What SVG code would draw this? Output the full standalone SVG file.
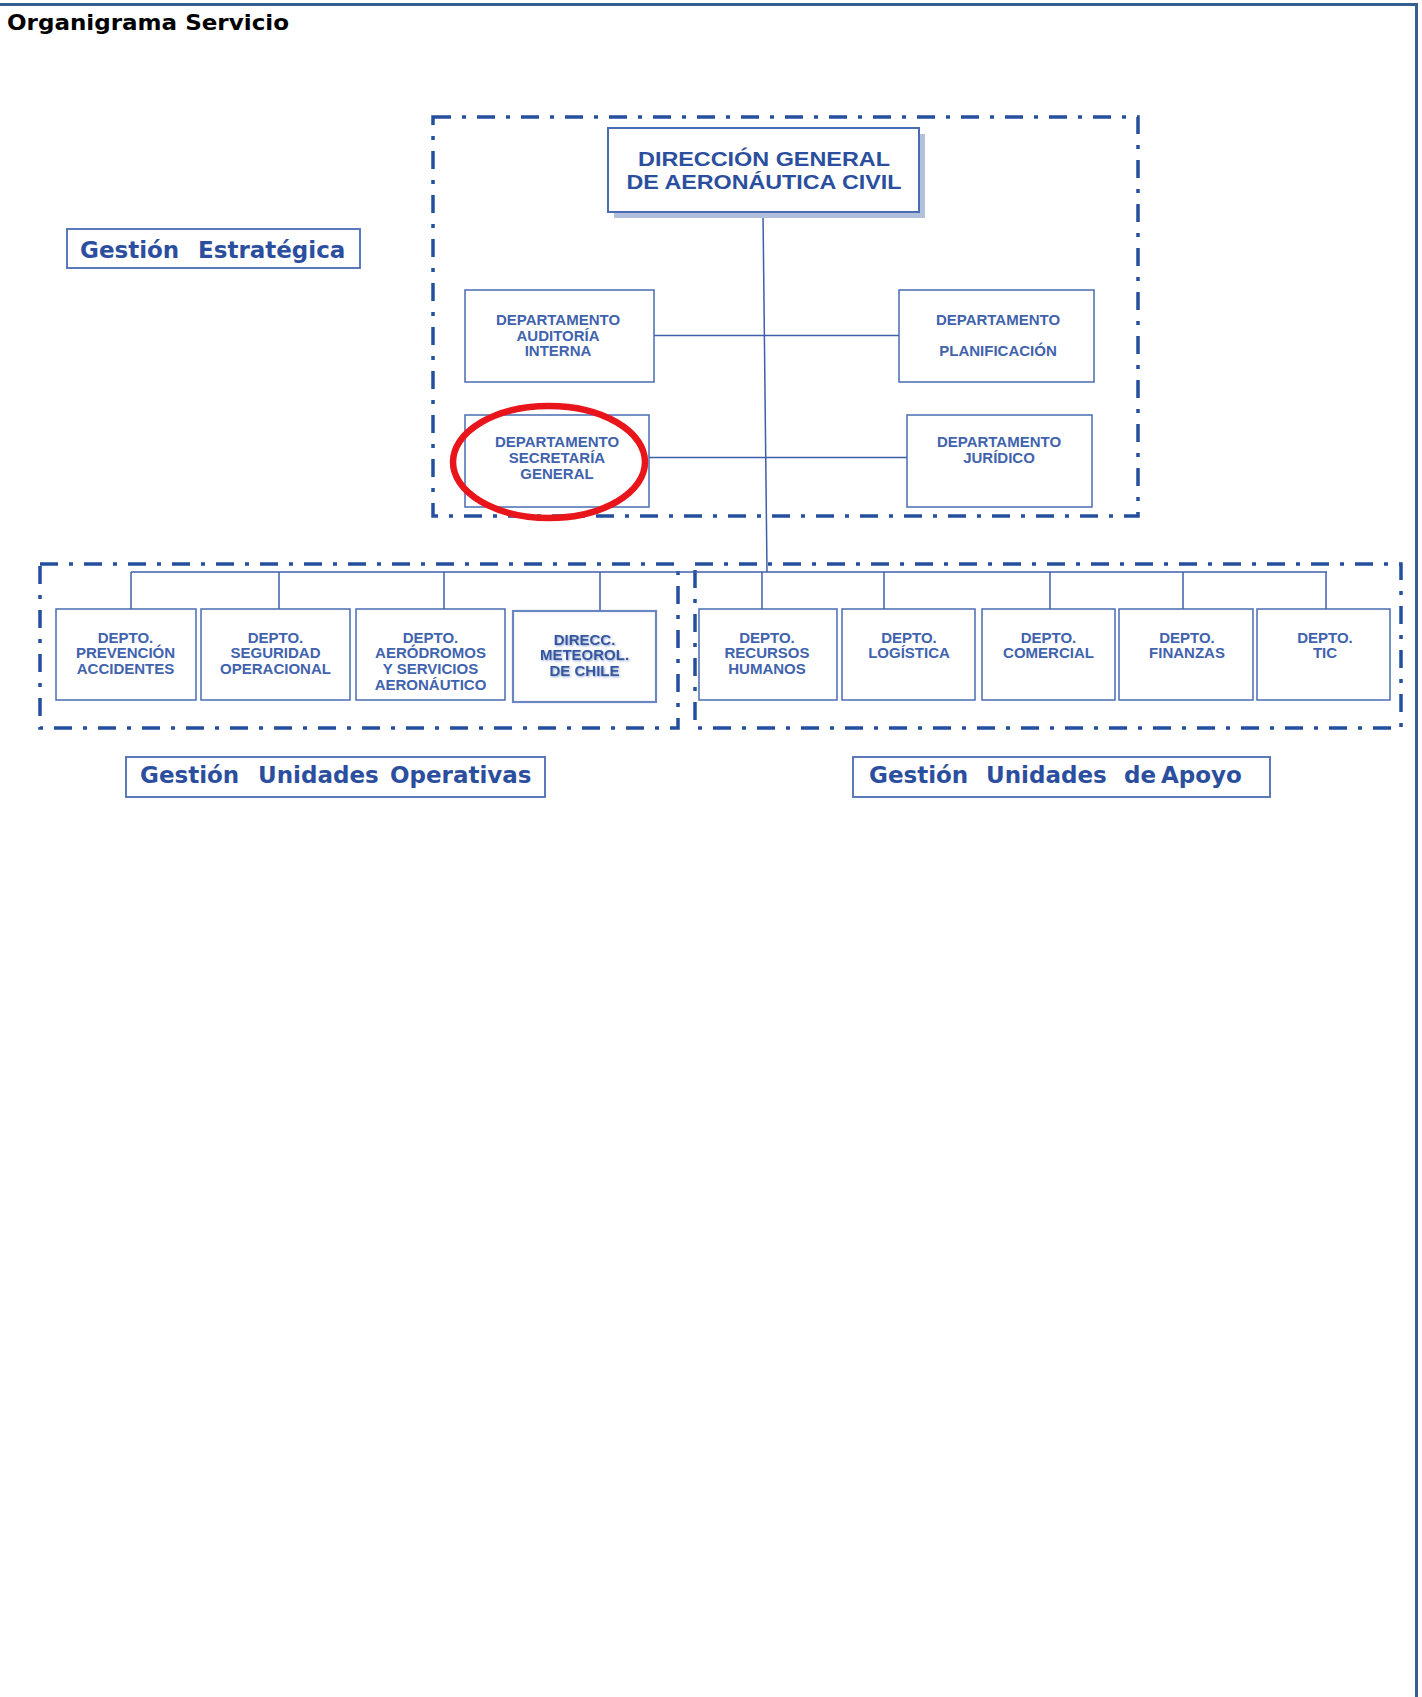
<svg xmlns="http://www.w3.org/2000/svg" width="1422" height="1697" viewBox="0 0 1422 1697">
<style>
.frame{stroke:#365f91;stroke-width:3;fill:none}
.title{font-family:"DejaVu Sans","Liberation Sans",sans-serif;font-weight:bold;font-size:21px;fill:#000}
.zone{fill:none;stroke:#244f9e;stroke-width:3.5;stroke-dasharray:18 11 4 11}
.box{fill:#fff;stroke:#4a6cb3;stroke-width:1.5}
.lbl{fill:#fff;stroke:#4a6cb5;stroke-width:1.8}
.dept{font-family:"Liberation Sans",Arial,sans-serif;font-weight:bold;font-size:15px;fill:#4163ad;text-anchor:middle}
.head{font-family:"Liberation Sans",Arial,sans-serif;font-weight:bold;font-size:20px;fill:#2b4f9e;text-anchor:middle}
.gest{font-family:"DejaVu Sans","Liberation Sans",sans-serif;font-weight:bold;font-size:23px;fill:#2b4f9e}
.con{stroke:#3f5fa8;stroke-width:1.5;fill:none}
</style>
<defs>
<filter id="blur" x="-10%" y="-10%" width="120%" height="120%">
<feDropShadow dx="1" dy="1" stdDeviation="0.8" flood-color="#8ea3cf"/>
</filter>
</defs>
<rect width="1422" height="1697" fill="#fff"/>
<path class="frame" d="M0 4.5 H1416.5 V1697"/>
<text class="title" x="7" y="30" textLength="282" lengthAdjust="spacingAndGlyphs">Organigrama Servicio</text>

<g id="zones">
<rect class="zone" x="433" y="117" width="705" height="399"/>
<rect class="zone" x="40" y="564" width="638" height="164"/>
<rect class="zone" x="695" y="564" width="706" height="164"/>
</g>

<g id="connectors">
<line class="con" x1="763" y1="212" x2="767" y2="572"/>
<line class="con" x1="654" y1="335.5" x2="899" y2="335.5"/>
<line class="con" x1="649" y1="457.5" x2="907" y2="457.5"/>
<line class="con" x1="131" y1="572" x2="1327" y2="572"/>
<line class="con" x1="131" y1="572" x2="131" y2="609"/>
<line class="con" x1="279" y1="572" x2="279" y2="609"/>
<line class="con" x1="444" y1="572" x2="444" y2="609"/>
<line class="con" x1="600" y1="572" x2="600" y2="611"/>
<line class="con" x1="762" y1="572" x2="762" y2="609"/>
<line class="con" x1="884" y1="572" x2="884" y2="609"/>
<line class="con" x1="1050" y1="572" x2="1050" y2="609"/>
<line class="con" x1="1183" y1="572" x2="1183" y2="609"/>
<line class="con" x1="1326" y1="572" x2="1326" y2="609"/>
</g>

<g id="gestion-estrategica">
<rect class="lbl" x="67" y="229" width="293" height="39"/>
<text class="gest" y="258"><tspan x="80">Gestión</tspan> <tspan x="198">Estratégica</tspan></text>
</g>

<g id="direccion-general">
<rect x="614" y="134" width="311" height="84" fill="#b3c0dc"/>
<rect class="box" x="608" y="128" width="311" height="84" style="stroke-width:2"/>
<text class="head" x="764" y="166" textLength="252" lengthAdjust="spacingAndGlyphs">DIRECCIÓN GENERAL</text>
<text class="head" x="764" y="189" textLength="275" lengthAdjust="spacingAndGlyphs">DE AERONÁUTICA CIVIL</text>
</g>

<g id="auditoria">
<rect class="box" x="465" y="290" width="189" height="92"/>
<text class="dept" x="558" y="325">DEPARTAMENTO</text>
<text class="dept" x="558" y="340.5">AUDITORÍA</text>
<text class="dept" x="558" y="356">INTERNA</text>
</g>

<g id="planificacion">
<rect class="box" x="899" y="290" width="195" height="92"/>
<text class="dept" x="998" y="325">DEPARTAMENTO</text>
<text class="dept" x="998" y="356">PLANIFICACIÓN</text>
</g>

<g id="secretaria">
<rect class="box" x="465" y="415" width="184" height="92"/>
<text class="dept" x="557" y="447">DEPARTAMENTO</text>
<text class="dept" x="557" y="463">SECRETARÍA</text>
<text class="dept" x="557" y="479">GENERAL</text>
</g>

<g id="juridico">
<rect class="box" x="907" y="415" width="185" height="92"/>
<text class="dept" x="999" y="447">DEPARTAMENTO</text>
<text class="dept" x="999" y="463">JURÍDICO</text>
</g>

<g id="prevencion">
<rect class="box" x="56" y="609" width="140" height="91"/>
<text class="dept" x="125.5" y="643">DEPTO.</text>
<text class="dept" x="125.5" y="658">PREVENCIÓN</text>
<text class="dept" x="125.5" y="674">ACCIDENTES</text>
</g>

<g id="seguridad">
<rect class="box" x="201" y="609" width="149" height="91"/>
<text class="dept" x="275.5" y="643">DEPTO.</text>
<text class="dept" x="275.5" y="658">SEGURIDAD</text>
<text class="dept" x="275.5" y="674">OPERACIONAL</text>
</g>

<g id="aerodromos">
<rect class="box" x="356" y="609" width="149" height="91"/>
<text class="dept" x="430.5" y="643">DEPTO.</text>
<text class="dept" x="430.5" y="658">AERÓDROMOS</text>
<text class="dept" x="430.5" y="674">Y SERVICIOS</text>
<text class="dept" x="430.5" y="690">AERONÁUTICO</text>
</g>

<g id="meteorologia">
<rect class="box" x="513" y="611" width="143" height="91" style="stroke:#6a86c0;stroke-width:2.2"/>
<g filter="url(#blur)">
<text class="dept" x="584.5" y="645" style="fill:#34569f">DIRECC.</text>
<text class="dept" x="584.5" y="660" style="fill:#34569f">METEOROL.</text>
<text class="dept" x="584.5" y="676" style="fill:#34569f">DE CHILE</text>
</g>
</g>

<g id="rrhh">
<rect class="box" x="699" y="609" width="138" height="91"/>
<text class="dept" x="767" y="643">DEPTO.</text>
<text class="dept" x="767" y="658">RECURSOS</text>
<text class="dept" x="767" y="674">HUMANOS</text>
</g>

<g id="logistica">
<rect class="box" x="842" y="609" width="133" height="91"/>
<text class="dept" x="909" y="643">DEPTO.</text>
<text class="dept" x="909" y="658">LOGÍSTICA</text>
</g>

<g id="comercial">
<rect class="box" x="982" y="609" width="133" height="91"/>
<text class="dept" x="1048.5" y="643">DEPTO.</text>
<text class="dept" x="1048.5" y="658">COMERCIAL</text>
</g>

<g id="finanzas">
<rect class="box" x="1119" y="609" width="134" height="91"/>
<text class="dept" x="1187" y="643">DEPTO.</text>
<text class="dept" x="1187" y="658">FINANZAS</text>
</g>

<g id="tic">
<rect class="box" x="1257" y="609" width="133" height="91"/>
<text class="dept" x="1325" y="643">DEPTO.</text>
<text class="dept" x="1325" y="658">TIC</text>
</g>

<g id="gestion-operativas">
<rect class="lbl" x="126" y="757" width="419" height="40"/>
<text class="gest" y="783"><tspan x="140">Gestión</tspan> <tspan x="258">Unidades</tspan> <tspan x="390">Operativas</tspan></text>
</g>

<g id="gestion-apoyo">
<rect class="lbl" x="853" y="757" width="417" height="40"/>
<text class="gest" y="783"><tspan x="869">Gestión</tspan> <tspan x="986">Unidades</tspan> <tspan x="1124">de</tspan> <tspan x="1161">Apoyo</tspan></text>
</g>

<g id="highlight">
<ellipse cx="549" cy="462" rx="96" ry="56" fill="none" stroke="#e8151b" stroke-width="6.5"/>
</g>
</svg>
